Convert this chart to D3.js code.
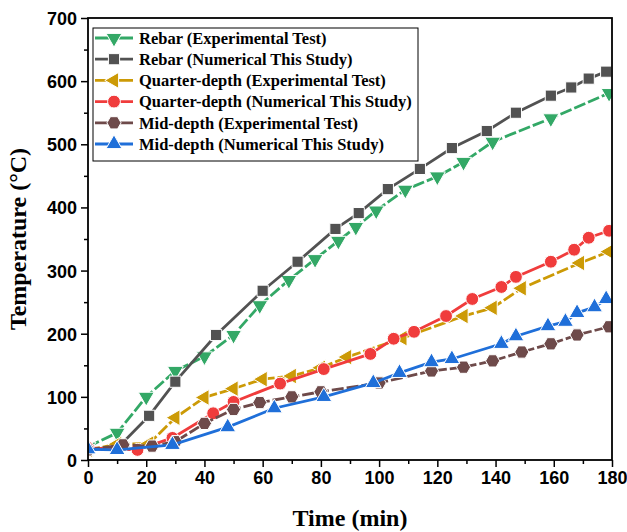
<!DOCTYPE html>
<html>
<head>
<meta charset="utf-8">
<script src="https://cdn.jsdelivr.net/npm/d3@7"></script>
<style>
  body { margin: 0; background: #fff; }
  svg { display: block; }
  .tick text { font-family: "Liberation Sans", Arial, sans-serif; font-weight: bold; font-size: 18px; fill: #000; }
  .label { font-family: "Liberation Serif", "Times New Roman", serif; font-weight: bold; font-size: 24px; fill: #000; }
  .legend text { font-family: "Liberation Serif", "Times New Roman", serif; font-weight: bold; font-size: 16.5px; fill: #000; }
</style>
</head>
<body>
<svg id="chart" width="627" height="532"></svg>
<script>
// data
const rebarExpTime = [0, 10, 20, 30, 40, 50, 59, 69, 78, 86, 92, 99, 109, 120, 129, 139, 159, 179];
const rebarExpTemp = [21, 43, 100, 141, 164, 198, 245, 285, 318, 347, 369, 395, 428, 449, 472, 504, 541, 581];

const rebarNumTime = [0, 11, 21, 30, 44, 60, 72, 85, 93, 103, 114, 125, 137, 147, 159, 166, 172, 178];
const rebarNumTemp = [15, 23, 70, 124, 198, 268, 314, 366, 391, 429, 461, 494, 521, 550, 577, 590, 604, 615];

const quarterExpTime = [0, 10, 21, 30, 40, 50, 60, 70, 80, 89, 108, 129, 139, 149, 169, 179];
const quarterExpTemp = [16, 25, 26, 67, 99, 113, 128, 133, 146, 163, 193, 228, 241, 272, 312, 330];

const quarterNumTime = [0, 17, 29, 43, 50, 66, 81, 97, 105, 112, 123, 132, 142, 147, 159, 167, 172, 179];
const quarterNumTemp = [19, 16, 35, 74, 92, 121, 144, 168, 192, 203, 228, 255, 274, 290, 314, 333, 352, 363];

const midExpTime = [0, 12, 22, 30, 40, 50, 59, 70, 80, 100, 118, 129, 139, 149, 159, 168, 179];
const midExpTemp = [16, 24, 22, 29, 58, 80, 91, 100, 108, 122, 141, 147, 157, 171, 184, 198, 211];

const midNumTime = [0, 10, 29, 48, 64, 81, 98, 107, 118, 125, 142, 147, 158, 164, 168, 174, 178];
const midNumTemp = [17, 16, 24, 52, 82, 100, 122, 138, 155, 160, 184, 196, 212, 219, 233, 242, 255];

const seriesNames = [
  'Rebar (Experimental Test)',
  'Rebar (Numerical This Study)',
  'Quarter-depth (Experimental Test)',
  'Quarter-depth (Numerical This Study)',
  'Mid-depth (Experimental Test)',
  'Mid-depth (Numerical This Study)'
];
const xTicks = [0, 20, 40, 60, 80, 100, 120, 140, 160, 180];
const yTicks = [0, 100, 200, 300, 400, 500, 600, 700];

const hexagon = {
  draw(ctx, size) {
    const r = Math.sqrt(size / (1.5 * Math.sqrt(3)));
    for (let k = 0; k < 6; k++) {
      const a = Math.PI / 3 * k;
      const px = r * Math.cos(a), py = r * Math.sin(a);
      if (k === 0) ctx.moveTo(px, py); else ctx.lineTo(px, py);
    }
    ctx.closePath();
  }
};

const series = [
  { name: seriesNames[0], t: rebarExpTime, v: rebarExpTemp, color: '#33a866', sym: d3.symbolTriangle, size: 110, rot: 180, dash: '12,3' },
  { name: seriesNames[1], t: rebarNumTime, v: rebarNumTemp, color: '#525252', sym: d3.symbolSquare, size: 125, rot: 0, dash: null },
  { name: seriesNames[2], t: quarterExpTime, v: quarterExpTemp, color: '#cc9a06', sym: d3.symbolTriangle, size: 110, rot: -90, dash: '12,3' },
  { name: seriesNames[3], t: quarterNumTime, v: quarterNumTemp, color: '#f03c3c', sym: d3.symbolCircle, size: 130, rot: 0, dash: null },
  { name: seriesNames[4], t: midExpTime, v: midExpTemp, color: '#6e4a4a', sym: hexagon, size: 130, rot: 0, dash: '12,3' },
  { name: seriesNames[5], t: midNumTime, v: midNumTemp, color: '#1f6fd9', sym: d3.symbolTriangle, size: 110, rot: 0, dash: null }
];

const svg = d3.select('#chart');
const margin = { top: 18, right: 15, bottom: 72, left: 88 };
const width = 627 - margin.left - margin.right;
const height = 532 - margin.top - margin.bottom;

const chart = svg.append('g')
  .attr('transform', `translate(${margin.left}, ${margin.top})`);

const xScale = d3.scaleLinear().domain([0, 180]).range([0, width]);
const yScale = d3.scaleLinear().domain([0, 700]).range([height, 0]);

svg.append('defs').append('clipPath')
  .attr('id', 'plotclip')
  .append('rect')
  .attr('width', width)
  .attr('height', height);

// minor ticks
chart.append('g')
  .attr('transform', `translate(0, ${height})`)
  .call(d3.axisBottom(xScale).tickValues(d3.range(10, 180, 20)).tickSize(4).tickFormat(''))
  .call(g => g.select('.domain').remove())
  .call(g => g.selectAll('line').attr('stroke-width', 1.5));

chart.append('g')
  .call(d3.axisLeft(yScale).tickValues(d3.range(50, 700, 100)).tickSize(4).tickFormat(''))
  .call(g => g.select('.domain').remove())
  .call(g => g.selectAll('line').attr('stroke-width', 1.5));

// major ticks
chart.append('g')
  .attr('transform', `translate(0, ${height})`)
  .call(d3.axisBottom(xScale).tickValues(xTicks).tickSize(7).tickPadding(4))
  .call(g => g.select('.domain').remove())
  .call(g => g.selectAll('line').attr('stroke-width', 1.5));

chart.append('g')
  .call(d3.axisLeft(yScale).tickValues(yTicks).tickSize(7).tickPadding(4))
  .call(g => g.select('.domain').remove())
  .call(g => g.selectAll('line').attr('stroke-width', 1.5))
  .call(g => g.selectAll('text').attr('dy', '0.36em'));

const plot = chart.append('g').attr('clip-path', 'url(#plotclip)');

const line = d3.line()
  .x(d => xScale(d[0]))
  .y(d => yScale(d[1]));

series.forEach(s => {
  const pts = s.t.map((t, i) => [t, s.v[i]]);
  const g = plot.append('g');
  g.append('path')
    .datum(pts)
    .attr('fill', 'none')
    .attr('stroke', s.color)
    .attr('stroke-width', 2.8)
    .attr('stroke-dasharray', s.dash)
    .attr('d', line);
  g.selectAll('path.mk')
    .data(pts)
    .enter()
    .append('path')
    .attr('class', 'mk')
    .attr('d', d3.symbol().type(s.sym).size(s.size))
    .attr('transform', d => `translate(${xScale(d[0])}, ${yScale(d[1])}) rotate(${s.rot})`)
    .attr('fill', s.color)
    .attr('stroke', '#fff')
    .attr('stroke-width', 1);
});

// frame
chart.append('rect')
  .attr('width', width)
  .attr('height', height)
  .attr('fill', 'none')
  .attr('stroke', '#000')
  .attr('stroke-width', 1.8);

// legend
const legend = chart.append('g')
  .attr('class', 'legend')
  .attr('transform', 'translate(5, 10)');

legend.append('rect')
  .attr('width', 325)
  .attr('height', 133)
  .attr('fill', '#fff')
  .attr('stroke', '#000')
  .attr('stroke-width', 1);

series.forEach((s, i) => {
  const y = 10 + i * 21.2;
  const row = legend.append('g').attr('transform', `translate(0, ${y})`);
  row.append('line')
    .attr('x1', 2)
    .attr('x2', 40)
    .attr('stroke', s.color)
    .attr('stroke-width', 2.8);
  row.append('path')
    .attr('d', d3.symbol().type(s.sym).size(s.size))
    .attr('transform', `translate(21, 0) rotate(${s.rot})`)
    .attr('fill', s.color)
    .attr('stroke', '#fff')
    .attr('stroke-width', 1);
  row.append('text')
    .attr('x', 46)
    .attr('dy', '0.35em')
    .text(s.name);
});

// axis titles
svg.append('text')
  .attr('class', 'label')
  .attr('transform', `translate(26, ${margin.top + height / 2}) rotate(-90)`)
  .attr('text-anchor', 'middle')
  .text('Temperature (°C)');

svg.append('text')
  .attr('class', 'label')
  .attr('x', margin.left + width / 2)
  .attr('y', 526)
  .attr('text-anchor', 'middle')
  .text('Time (min)');
</script>
</body>
</html>
